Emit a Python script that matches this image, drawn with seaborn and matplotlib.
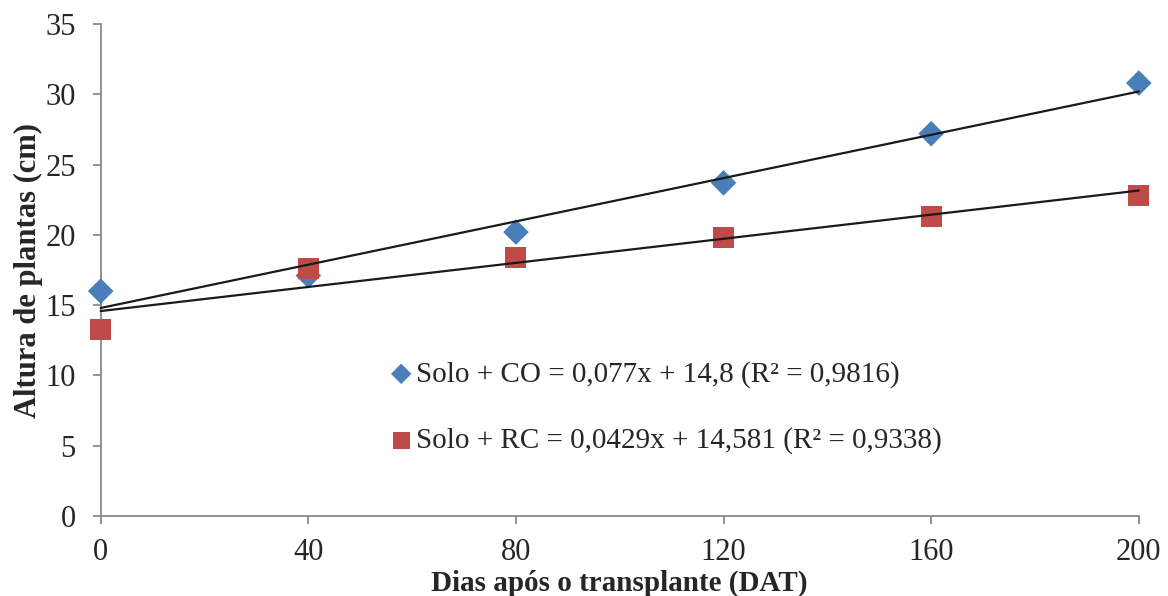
import matplotlib.pyplot as plt
import seaborn as sns

# dias após o transplante
dias = [0, 40, 80, 120, 160, 200]
altura_co = [16.0, 17.1, 20.2, 23.7, 27.2, 30.8]
altura_rc = [13.3, 17.6, 18.4, 19.8, 21.3, 22.8]

label_co = "Solo + CO = 0,077x + 14,8 (R² = 0,9816)"
label_rc = "Solo + RC = 0,0429x + 14,581 (R² = 0,9338)"

x_ticks = [0, 40, 80, 120, 160, 200]
y_ticks = [0, 5, 10, 15, 20, 25, 30, 35]

sns.set_style("white")
plt.rcParams["font.family"] = ["Liberation Serif", "DejaVu Serif"]

fig = plt.figure(figsize=(11.68, 5.96), dpi=100)
ax = fig.add_axes([0.0862, 0.1342, 0.975 - 0.0862, 0.9597 - 0.1342])

sns.scatterplot(x=dias, y=altura_co, marker="D", s=170, color="#4a7ebb",
                edgecolor="none", label=label_co, ax=ax, zorder=3,
                clip_on=False)
sns.scatterplot(x=dias, y=altura_rc, marker="s", s=230, color="#be4b48",
                edgecolor="none", label=label_rc, ax=ax, zorder=3,
                clip_on=False)

# linhas de tendência (regressão linear)
sns.regplot(x=dias, y=altura_co, scatter=False, ci=None, truncate=True,
            line_kws={"color": "#1a1a1a", "lw": 1.6, "zorder": 4,
                      "clip_on": False}, ax=ax)
sns.regplot(x=dias, y=altura_rc, scatter=False, ci=None, truncate=True,
            line_kws={"color": "#1a1a1a", "lw": 1.6, "zorder": 4,
                      "clip_on": False}, ax=ax)

ax.set_xlim(0, 200)
ax.set_ylim(0, 35)
ax.set_xticks(x_ticks)
ax.set_yticks(y_ticks)
ax.tick_params(axis="both", labelsize=22, direction="out", length=6,
               width=1.3, color="#898989", bottom=True, left=True)
ax.tick_params(axis="y", pad=12)
ax.tick_params(axis="x", pad=10)

for side in ["top", "right"]:
    ax.spines[side].set_visible(False)
for side in ["left", "bottom"]:
    ax.spines[side].set_color("#898989")
    ax.spines[side].set_linewidth(1.3)
    ax.spines[side].set_zorder(1)

ax.set_xlabel("Dias após o transplante (DAT)", fontsize=21, fontweight="bold",
              labelpad=2)
ax.set_ylabel("Altura de plantas (cm)", fontsize=22, fontweight="bold",
              labelpad=1.5)

ax.legend(loc="upper left", bbox_to_anchor=(0.267, 0.339), frameon=False,
          fontsize=21, handlelength=0.8, handletextpad=0.1, labelspacing=1.35,
          borderaxespad=0, markerscale=0.8)

fig.savefig("out.png", dpi=100)
